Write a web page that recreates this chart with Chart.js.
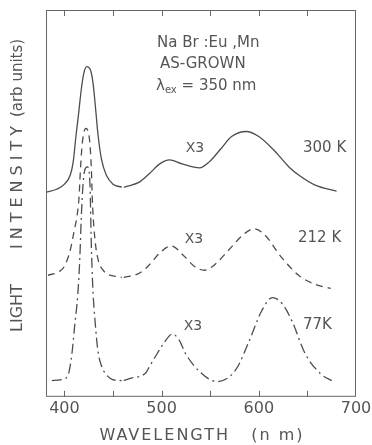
<!DOCTYPE html>
<html lang="en">
<head>
<meta charset="UTF-8">
<title>NaBr:Eu,Mn emission spectra</title>
<script src="https://cdn.jsdelivr.net/npm/chart.js"></script>
<style>
  html, body { margin: 0; padding: 0; background: #fff; }
  #spectra { display: block; }
</style>
</head>
<body>
<canvas id="spectra" width="372" height="445"></canvas>
<script>
// wavelength (nm) / height (arb units, offsets as in the figure), null = scale break at 460 nm
const wl300 = [381, 392, 400, 406, 409, 412, 414, 417.5, 420, 423, 427, 429.5, 432, 434.5, 438, 443, 450, 459,
  460, 461, 465, 477, 487, 498, 508, 521, 539, 549, 561, 572, 587, 600, 617, 631, 641, 658, 680];
const k300 = [202, 205, 210, 219, 232, 259, 275, 305, 320, 326, 322, 309, 285, 259, 235, 219, 210, 207,
  null, 207, 208, 212, 220, 230, 234, 230, 226, 232, 245, 257, 262, 257, 242, 227, 219, 209, 203];

const wl212 = [383, 395, 400, 406, 410, 413, 415, 416.3, 418, 420, 422, 424, 426, 427.6, 428.6, 429.6, 432, 435, 439, 444.5, 452, 459,
  460, 461, 477, 487, 498, 510, 523, 533.5, 544, 554, 569, 585, 595, 605, 624, 641, 658, 674];
const k212 = [120, 124, 129, 145, 164, 179, 197, 222, 247, 261, 265, 263, 252, 227, 197, 177, 150, 134, 126, 121, 119, 118,
  null, 118, 122, 130, 142, 149, 139, 129, 125, 130, 145, 161, 166, 161, 137, 120, 111, 107];

const wl77 = [387, 397, 403.5, 407.6, 410.7, 413.8, 415.8, 417.3, 418.9, 420.9, 423.5, 425.5, 426.5, 427.6, 429.1, 431.7, 434.5, 438.3, 443, 449.6, 459,
  460, 461, 467, 484, 487, 495, 503, 511, 518, 525, 539, 557, 576.5, 590, 603, 614, 624, 634, 648, 664.5, 675];
const k77 = [16, 17, 21, 42, 72, 102, 137, 177, 207, 224, 227, 222, 202, 152, 109, 72, 45, 30, 22, 17, 16,
  null, 16, 18, 24, 29, 42, 54, 62, 56, 42, 25, 15, 27, 55, 85, 98, 92, 75, 42, 22, 16];

const tickMarks = [400, 450, 500, 550, 600, 650];
const curveLabels = ['300 K', '212 K', '77K'];
const scaleNote = 'X3';

const ink = '#555';
const font = '"DejaVu Sans", sans-serif';

function pts(xs, ys) {
  return xs.map((v, i) => ({ x: v, y: ys[i] }));
}

function line(label, xs, ys, dash) {
  return {
    label: label,
    data: pts(xs, ys),
    borderColor: '#4d4d4d',
    borderWidth: 1.3,
    borderDash: dash,
    pointRadius: 0,
    cubicInterpolationMode: 'monotone',
    spanGaps: false,
    fill: false
  };
}

function txt(ctx, s, x, y, size, align, spacing) {
  ctx.font = size + 'px ' + font;
  ctx.textAlign = align || 'left';
  ctx.textBaseline = 'middle';
  ctx.letterSpacing = (spacing || 0) + 'px';
  ctx.fillText(s, x, y);
  ctx.letterSpacing = '0px';
}

// frame, inward ticks and all the lettering
const decor = {
  id: 'decor',
  afterDraw(chart) {
    const { ctx, chartArea: a, scales: { x } } = chart;
    ctx.save();
    ctx.strokeStyle = '#666';
    ctx.lineWidth = 1;
    ctx.strokeRect(a.left + 0.5, a.top + 0.5, a.right - a.left - 1, a.bottom - a.top - 1);
    ctx.beginPath();
    tickMarks.forEach(v => {
      const px = Math.round(x.getPixelForValue(v)) + 0.5;
      ctx.moveTo(px, a.bottom);
      ctx.lineTo(px, a.bottom - 6);
      ctx.moveTo(px, a.top);
      ctx.lineTo(px, a.top + 6);
    });
    ctx.stroke();

    ctx.fillStyle = ink;
    // header
    txt(ctx, 'Na Br :Eu ,Mn', 157, 43, 15);
    txt(ctx, 'AS-GROWN', 160, 64, 15);
    ctx.font = '15px ' + font;
    txt(ctx, 'λ', 156, 86, 15);
    let w = ctx.measureText('λ').width;
    txt(ctx, 'ex', 156 + w, 90, 10);
    ctx.font = '10px ' + font;
    w += ctx.measureText('ex').width;
    txt(ctx, ' = 350 nm', 156 + w, 86, 15);

    // curve labels
    txt(ctx, scaleNote, 195, 148, 14, 'center');
    txt(ctx, scaleNote, 194, 239, 14, 'center');
    txt(ctx, scaleNote, 193, 326, 14, 'center');
    txt(ctx, curveLabels[0], 303, 148, 15);
    txt(ctx, curveLabels[1], 298, 238, 15);
    txt(ctx, curveLabels[2], 303, 325, 15);

    // axis titles
    txt(ctx, 'WAVELENGTH   (n m)', 202, 436, 16, 'center', 2);
    ctx.translate(18, 0);
    ctx.rotate(-Math.PI / 2);
    txt(ctx, 'LIGHT', -308, 0, 16, 'center', 0);
    txt(ctx, 'INTENSITY', -185, 0, 16, 'center', 5);
    txt(ctx, '(arb units)', -78, 0, 15, 'center', 0);
    ctx.restore();
  }
};

new Chart(document.getElementById('spectra'), {
  type: 'line',
  data: {
    datasets: [
      line('300 K', wl300, k300, []),
      line('212 K', wl212, k212, [7, 5]),
      line('77 K', wl77, k77, [10, 4, 2, 4])
    ]
  },
  options: {
    responsive: false,
    animation: false,
    layout: { padding: { left: 46, right: 16, top: 10, bottom: 25 } },
    plugins: { legend: { display: false }, tooltip: { enabled: false } },
    scales: {
      x: {
        type: 'linear',
        min: 381,
        max: 700,
        grid: { display: false, drawTicks: false },
        border: { display: false },
        afterFit: s => { s.paddingLeft = 0; s.paddingRight = 0; },
        ticks: {
          stepSize: 100,
          includeBounds: false,
          padding: 2,
          color: ink,
          font: { family: font, size: 16 }
        }
      },
      y: {
        display: false,
        min: 0,
        max: 382
      }
    }
  },
  plugins: [decor]
});
</script>
</body>
</html>
